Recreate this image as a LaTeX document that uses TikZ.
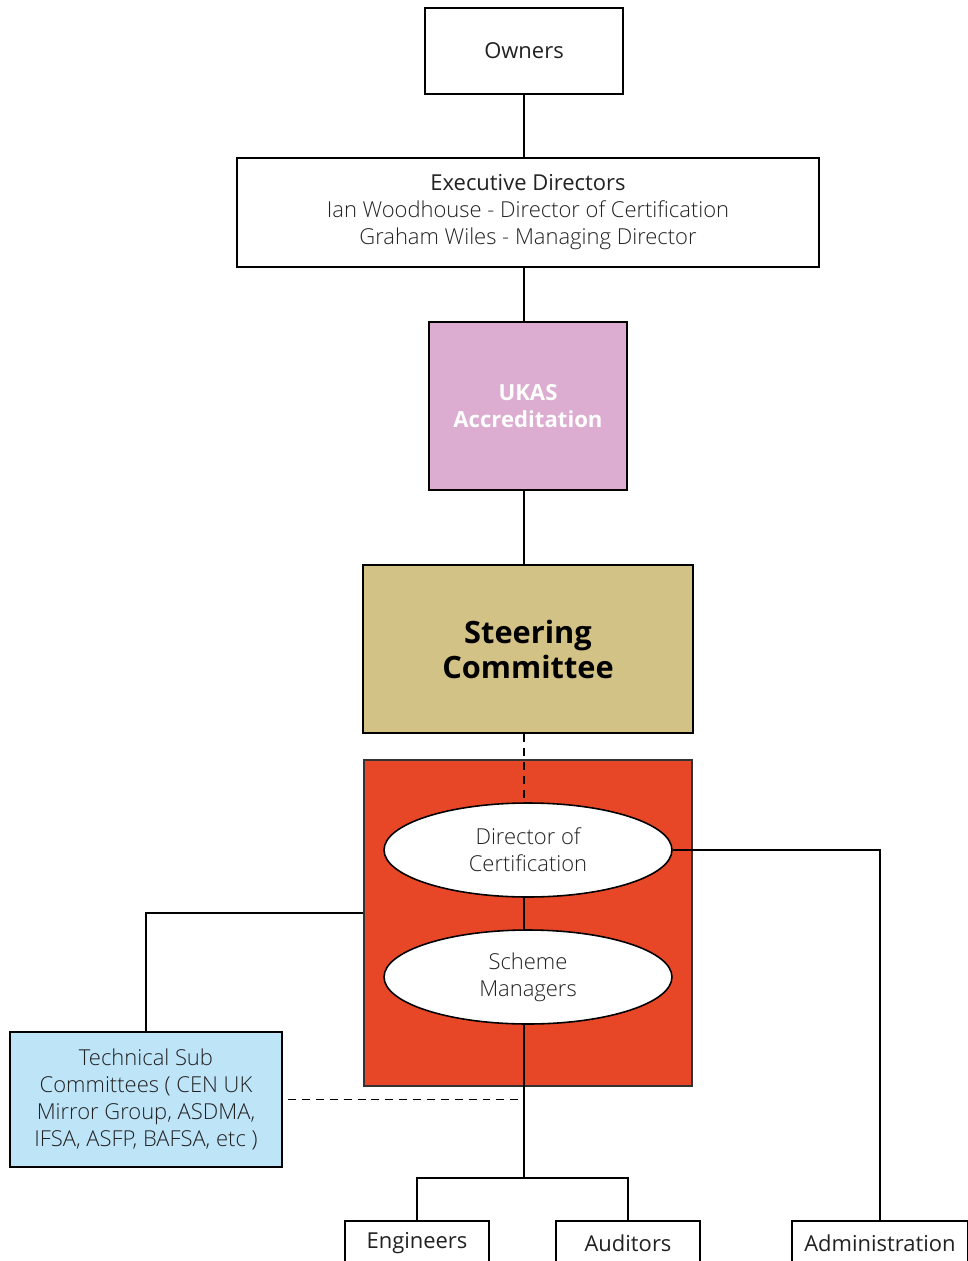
\documentclass[tikz,border=0pt]{standalone}
\usepackage{fontspec}
\setmainfont{Open Sans}
\newfontfamily\lightfont{Open Sans Light}
\usepackage{xcolor}
\usetikzlibrary{shapes.geometric}
\definecolor{ukaspink}{HTML}{DCACD1}
\definecolor{steerbrown}{HTML}{D3C286}
\definecolor{certred}{HTML}{E84727}
\definecolor{techblue}{HTML}{BEE4F8}
\definecolor{inktext}{HTML}{222222}

\begin{document}
\begin{tikzpicture}[x=0.02cm,y=-0.02cm,
    orgbox/.style={draw,line width=1.4pt,fill=white,align=center,inner sep=0pt,
        text=inktext,font=\fontsize{12.5}{15.4}\selectfont},
    staffbox/.style={orgbox,line width=0.9pt,minimum width=2.88cm,minimum height=0.88cm},
    rolebubble/.style={ellipse,draw,line width=0.9pt,fill=white,align=center,inner sep=0pt,
        minimum width=5.76cm,minimum height=1.88cm,text=inktext,
        font=\fontsize{12.5}{15.4}\selectfont\lightfont},
    link/.style={line width=0.9pt},
    dashedlink/.style={link,dash pattern=on 4.5pt off 3.4pt}]
        \useasboundingbox (0,0) rectangle (967,1261);

        % top of the chart
        \node[orgbox,minimum width=3.96cm,minimum height=1.72cm] (owners) at (524,51) {Owners};
        \node[orgbox,minimum width=11.64cm,minimum height=2.18cm] (execs) at (528,212.5)
            {Executive Directors\\ {\lightfont Ian Woodhouse - Director of Certification}\\
             {\lightfont Graham Wiles - Managing Director}};
        \node[orgbox,fill=ukaspink,text=white,minimum width=3.96cm,minimum height=3.36cm,
            font=\fontsize{12.6}{15.4}\selectfont\bfseries] (ukas) at (528,406) {UKAS\\ Accreditation};
        \node[orgbox,fill=steerbrown,text=black,minimum width=6.6cm,minimum height=3.36cm,
            font=\fontsize{17.5}{19.9}\selectfont\bfseries] (steering) at (528,649) {Steering\\ Committee};

        % certification block
        \node[draw=black!80,line width=0.7pt,fill=certred,minimum width=6.56cm,minimum height=6.52cm,
            inner sep=0pt] (certblock) at (528,923) {};
        \node[rolebubble] (director) at (528,850) {Director of\\ Certification};
        \node[rolebubble] (schemes) at (528,977) {Scheme\\ Managers};

        \node[orgbox,fill=techblue,minimum width=5.44cm,minimum height=2.7cm,
            font=\fontsize{12.5}{15.4}\selectfont\lightfont] (techsub) at (146,1099.5)
            {Technical Sub\\ Committees ( CEN UK\\ Mirror Group, ASDMA,\\ IFSA, ASFP, BAFSA, etc )};

        % staff at the bottom
        \node[staffbox] (engineers) at (417,1243) {Engineers};
        \node[staffbox] (auditors) at (628,1243) {Auditors};
        \node[staffbox,minimum width=3.52cm] (admin) at (880,1243) {Administration};

        \coordinate (spine) at (524,0);
        \coordinate (fork) at (524,1178);

        \draw[link] (owners) -- (spine |- execs.north);
        \draw[link] (spine |- execs.south) -- (spine |- ukas.north);
        \draw[link] (spine |- ukas.south) -- (spine |- steering.north);
        \draw[dashedlink] (spine |- steering.south) -- (spine |- director.north);
        \draw[link] (spine |- director.south) -- (spine |- schemes.north);
        \draw[link] (spine |- schemes.south) -- (fork);
        \draw[link] (engineers.north) |- (fork) -| (auditors.north);
        \draw[link] (director.east) -| (admin.north);
        \draw[link] ([yshift=0.2cm]certblock.west) -| (techsub.north);
        \draw[dashedlink] ([xshift=0.1cm]techsub.east) -- (spine |- techsub.east);
    \end{tikzpicture}
\end{document}
